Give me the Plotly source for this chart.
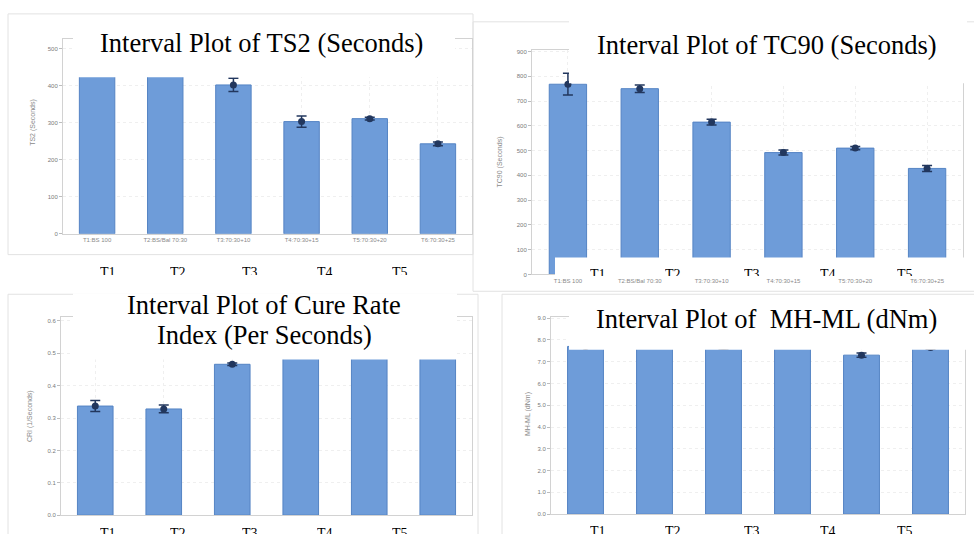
import plotly.graph_objects as go

W, H = 974, 534

# ---------------- data ----------------
treatments = ["T1:BS 100", "T2:BS/Bal 70:30", "T3:70:30+10", "T4:70:30+15", "T5:70:30+20", "T6:70:30+25"]
ts2 = [473, 445, 402, 303, 311, 243]
ts2_err = [14, 15, 18, 15, 4, 5]
tc90 = [768, 750, 615, 492, 510, 428]
tc90_err = [44, 15, 12, 10, 7, 12]
cri = [0.337, 0.328, 0.466, 0.53, 0.50, 0.54]
cri_err = [0.017, 0.012, 0.004, 0.01, 0.012, 0.01]
mhml = [7.7, 7.8, 7.7, 7.8, 7.3, 7.65]
mhml_err = [0.08, 0.08, 0.12, 0.08, 0.1, 0.08]
overlay_labels = ["T1", "T2", "T3", "T4", "T5"]

panel_titles = ["Interval Plot of TS2 (Seconds)",
                "Interval Plot of TC90 (Seconds)",
                "Interval Plot of Cure Rate",
                "Index (Per Seconds)",
                "Interval Plot of  MH-ML (dNm)"]
y_titles = ["TS2 (Seconds)", "TC90 (Seconds)", "CRI (1/Seconds)", "MH-ML (dNm)"]


def fx(px):
    return px / W


def fy(py):
    return 1 - py / H


# panel geometry in pixels: plot area (left, right, bottom, top), y range, dtick, format
panels = [
    dict(vals=ts2, err=ts2_err, x0=63, x1=472, yb=234, yt=37, yr=[0, 527], dt=100, fmt="d", labels=True),
    dict(vals=tc90, err=tc90_err, x0=532, x1=963, yb=275, yt=48, yr=[0, 908], dt=100, fmt="d", labels=True),
    dict(vals=cri, err=cri_err, x0=61, x1=472, yb=518, yt=318, yr=[0, 0.612], dt=0.1, fmt=".1f", labels=False),
    dict(vals=mhml, err=mhml_err, x0=551, x1=965, yb=517, yt=318, yr=[0, 9.05], dt=1, fmt=".1f", labels=False),
]

BAR = "#6e9cd9"
BAR_EDGE = "#5584c4"
ERR = "#22375e"
AX = "#d2d2d2"
GRID = "#efefef"

fig = go.Figure()
layout_axes = {}
for i, p in enumerate(panels, start=1):
    xa = "x" if i == 1 else f"x{i}"
    ya = "y" if i == 1 else f"y{i}"
    fig.add_trace(go.Bar(x=treatments, y=p["vals"], xaxis=xa, yaxis=ya,
                         marker=dict(color=BAR, line=dict(color=BAR_EDGE, width=1)),
                         showlegend=False, hoverinfo="skip"))
    fig.add_trace(go.Scatter(x=treatments, y=p["vals"], xaxis=xa, yaxis=ya, mode="markers",
                             marker=dict(color=ERR, size=7),
                             error_y=dict(type="data", array=p["err"], visible=True,
                                          color=ERR, thickness=1.5, width=5),
                             showlegend=False, hoverinfo="skip"))
    xk = "xaxis" if i == 1 else f"xaxis{i}"
    yk = "yaxis" if i == 1 else f"yaxis{i}"
    layout_axes[xk] = dict(domain=[fx(p["x0"]), fx(p["x1"])], anchor=ya, type="category",
                           showline=True, linecolor=AX, linewidth=1, mirror=True,
                           showgrid=True, gridcolor=GRID, griddash="dot",
                           showticklabels=p["labels"], ticks="",
                           tickfont=dict(family="Liberation Sans", size=6, color="#8a8a8a"),
                           fixedrange=True)
    layout_axes[yk] = dict(domain=[fy(p["yb"]), fy(p["yt"])], anchor=xa, range=p["yr"],
                           dtick=p["dt"], tick0=0, tickformat=p["fmt"],
                           showline=True, linecolor=AX, linewidth=1, mirror=True,
                           showgrid=True, gridcolor=GRID, griddash="dot", zeroline=False,
                           ticks="outside", ticklen=3, tickcolor="#bdbdbd",
                           tickfont=dict(family="Liberation Sans", size=6, color="#7a7a7a"),
                           fixedrange=True)

shapes = []
# faint outer frames of the four screenshots
for (a, b, c, d) in [(8, 12, 473, 255), (473, 20, 985, 292), (8, 295, 478, 545), (502, 295, 985, 545)]:
    shapes.append(dict(type="rect", xref="paper", yref="paper", x0=fx(a), x1=fx(c), y0=fy(d), y1=fy(b),
                       line=dict(color="#e2e2e2", width=1), fillcolor="rgba(0,0,0,0)", layer="below"))
# white title boxes / strips pasted over the charts
for (a, b, c, d) in [(73, 13, 455, 76), (569, 18, 967, 82), (555, 258, 967, 276),
                     (73, 294, 457, 361), (569, 297, 967, 351)]:
    shapes.append(dict(type="rect", xref="paper", yref="paper", x0=fx(a), x1=fx(c), y0=fy(d), y1=fy(b),
                       line=dict(width=0), fillcolor="white", layer="above"))

annotations = []
title_pos = [(261, 41), (767, 43), (264, 306), (264, 336), (766, 320)]
for t, (cx, cy) in zip(panel_titles, title_pos):
    annotations.append(dict(text=t, x=fx(cx), y=fy(cy), xref="paper", yref="paper",
                            xanchor="center", yanchor="middle", showarrow=False,
                            font=dict(family="Liberation Serif", size=26.5, color="black")))
ytitle_pos = [(33, 122), (500, 161), (30, 418), (528, 416)]
for t, (cx, cy) in zip(y_titles, ytitle_pos):
    annotations.append(dict(text=t, x=fx(cx), y=fy(cy), xref="paper", yref="paper",
                            xanchor="center", yanchor="middle", showarrow=False, textangle=-90,
                            font=dict(family="Liberation Sans", size=7, color="#8a8a8a")))

# clipped "T1..T5" labels from the pasted strips
rows = [([108, 178, 250, 325, 400], 264, 10),
        ([598, 673, 752, 828, 905], 266, 9),
        ([108, 178, 250, 325, 400], 528, 10),
        ([598, 673, 752, 828, 905], 526, 10)]
for xs, top, hgt in rows:
    for lab, cx in zip(overlay_labels, xs):
        annotations.append(dict(text=lab, x=fx(cx), y=fy(top), xref="paper", yref="paper",
                                xanchor="center", yanchor="top", showarrow=False,
                                height=hgt, valign="top", borderpad=0,
                                font=dict(family="Liberation Serif", size=14, color="black")))

fig.update_layout(width=W, height=H, margin=dict(l=0, r=0, t=0, b=0),
                  paper_bgcolor="white", plot_bgcolor="white",
                  bargap=0.48, showlegend=False,
                  shapes=shapes, annotations=annotations, **layout_axes)

fig.write_html("out.html", config={"displayModeBar": False},
               post_script="document.body.style.margin='0';document.body.style.overflow='hidden';")
